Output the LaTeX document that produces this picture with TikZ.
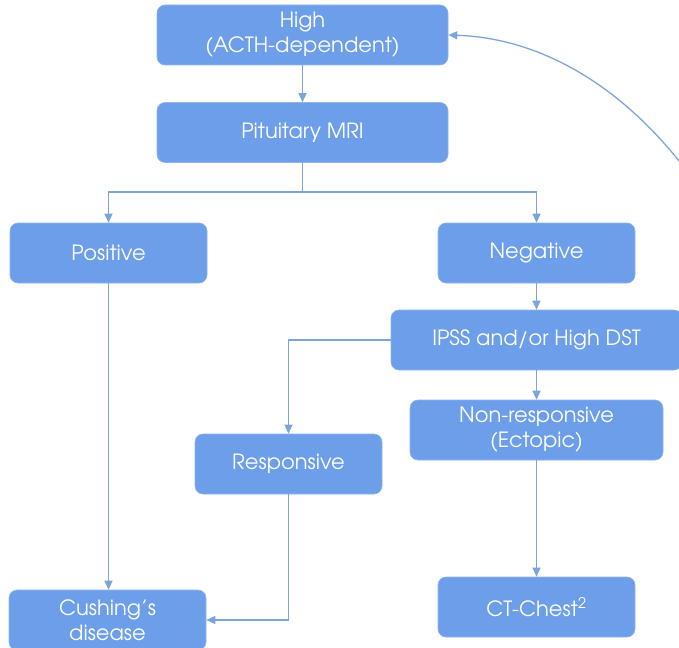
\documentclass[tikz,border=0pt]{standalone}
\usepackage{fontspec}
\setmainfont{TeX Gyre Adventor}
\usetikzlibrary{arrows.meta}
\definecolor{boxfill}{HTML}{6C9EEA}
\definecolor{boxedge}{HTML}{8FB4EE}
\definecolor{linkcol}{HTML}{7BA5D8}
\tikzset{
  flowbox/.style={rectangle, rounded corners=8pt, fill=boxfill, draw=boxedge, line width=0.6pt,
    text=white, align=center, font=\fontsize{21}{25}\selectfont,
    minimum height=60pt, inner sep=0pt},
  link/.style={draw=linkcol, line width=1.3pt, -{Triangle[length=9pt,width=8pt]}},
}
\begin{document}
\begin{tikzpicture}[x=1pt,y=-1pt]
\useasboundingbox (0,0) rectangle (679,647);

\node[flowbox, minimum width=291pt] (high) at (302.5,35) {High\\(ACTH-dependent)};
\node[flowbox, minimum width=291pt] (mri) at (302.5,132.5) {Pituitary MRI};
\node[flowbox, minimum width=197pt] (pos) at (108.5,253) {Positive};
\node[flowbox, minimum width=197pt] (neg) at (536.5,253) {Negative};
\node[flowbox, minimum width=291pt] (ipss) at (536.5,340) {IPSS and/or High DST};
\node[flowbox, minimum width=253pt] (nonresp) at (536.5,430) {Non-responsive\\(Ectopic)};
\node[flowbox, minimum width=187pt] (resp) at (288.5,464) {Responsive};
\node[flowbox, minimum width=197pt] (cush) at (107.5,620) {Cushing’s\\disease};
\node[flowbox, minimum width=197pt] (ct) at (536.5,607) {CT-Chest\textsuperscript{2}};

\coordinate (split) at (302.5,192);
\coordinate (feed) at (683,166);

\draw[link] (high) -- (mri);
\draw[link] (mri.south) -- (split) -| (pos.north);
\draw[link] (split) -| (neg.north);
\draw[link] (neg) -- (ipss);
\draw[link] (ipss.west) -| (resp.north);
\draw[link] (ipss) -- (nonresp);
\draw[link] (nonresp) -- (ct);
\draw[link] (pos.south) -- (cush.north -| pos.south);
\draw[link] (resp.south) |- (cush.east);
\draw[link] (feed) .. controls (620,85) and (540,38) .. (high.east);
\end{tikzpicture}
\end{document}
